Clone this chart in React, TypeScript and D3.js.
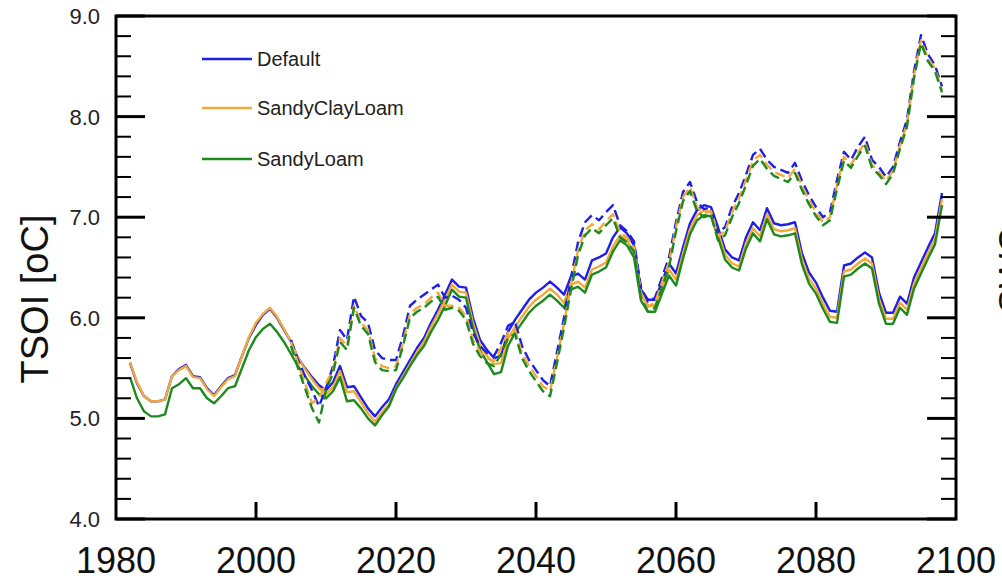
import React from "react";
import * as d3 from "d3";

// ---------- data ----------
const seriesNames = ["Default", "SandyClayLoam", "SandyLoam"];
const seriesColors = ["#1f1fe6", "#f2a93b", "#1e8a1e"];

const solidStartYear = 1982;
const dashedStartYear = 2005;

const tsoiDefault = [
  5.55, 5.35, 5.22, 5.17, 5.17, 5.19, 5.42, 5.49, 5.53, 5.42,
  5.41, 5.30, 5.23, 5.32, 5.40, 5.43, 5.62, 5.80, 5.93, 6.03,
  6.09, 6.00, 5.88, 5.76, 5.60, 5.50, 5.41, 5.33, 5.28, 5.36,
  5.52, 5.31, 5.32, 5.21, 5.10, 5.02, 5.11, 5.19, 5.34, 5.46,
  5.58, 5.70, 5.80, 5.95, 6.08, 6.23, 6.38, 6.31, 6.30, 6.00,
  5.78, 5.68, 5.60, 5.62, 5.86, 5.98, 6.08, 6.18, 6.25, 6.30,
  6.36, 6.30, 6.23, 6.41, 6.44, 6.38, 6.57, 6.60, 6.64, 6.80,
  6.90, 6.84, 6.72, 6.28, 6.18, 6.18, 6.36, 6.54, 6.44, 6.70,
  6.94, 7.07, 7.12, 7.10, 6.90, 6.68, 6.60, 6.57, 6.80, 6.95,
  6.87, 7.09, 6.94, 6.92, 6.93, 6.95, 6.64, 6.45, 6.35, 6.20,
  6.07, 6.06, 6.52, 6.54, 6.60, 6.65, 6.60, 6.25, 6.05, 6.05,
  6.21, 6.14, 6.40, 6.55, 6.70, 6.84, 7.24,
];

const tsoiSandyClayLoam = [
  5.56, 5.36, 5.22, 5.17, 5.17, 5.19, 5.42, 5.48, 5.52, 5.41,
  5.40, 5.29, 5.22, 5.31, 5.39, 5.42, 5.62, 5.81, 5.95, 6.04,
  6.10, 6.01, 5.89, 5.76, 5.60, 5.49, 5.39, 5.30, 5.24, 5.31,
  5.47, 5.26, 5.27, 5.16, 5.05, 4.97, 5.06, 5.14, 5.30, 5.42,
  5.54, 5.66, 5.76, 5.91, 6.04, 6.18, 6.33, 6.26, 6.25, 5.95,
  5.73, 5.62, 5.54, 5.55, 5.79, 5.91, 6.01, 6.11, 6.18, 6.23,
  6.29, 6.23, 6.15, 6.33, 6.36, 6.30, 6.48, 6.51, 6.55, 6.71,
  6.82, 6.77, 6.65, 6.22, 6.12, 6.12, 6.30, 6.48, 6.38, 6.64,
  6.88, 7.02, 7.07, 7.05, 6.85, 6.63, 6.54, 6.51, 6.74, 6.89,
  6.81, 7.03, 6.88, 6.86, 6.87, 6.89, 6.58, 6.39, 6.29, 6.14,
  6.01, 6.00, 6.46, 6.48, 6.54, 6.59, 6.54, 6.19, 5.99, 5.99,
  6.15, 6.08, 6.34, 6.49, 6.64, 6.78, 7.18,
];

const tsoiSandyLoam = [
  5.41, 5.20, 5.07, 5.02, 5.02, 5.04, 5.30, 5.34, 5.40, 5.30,
  5.30, 5.20, 5.15, 5.22, 5.30, 5.32, 5.50, 5.68, 5.81, 5.89,
  5.94, 5.86, 5.76, 5.64, 5.52, 5.42, 5.32, 5.24, 5.20, 5.27,
  5.41, 5.17, 5.18, 5.10, 5.00, 4.93, 5.03, 5.12, 5.29, 5.40,
  5.52, 5.63, 5.72, 5.86, 5.98, 6.12, 6.28, 6.21, 6.20, 5.90,
  5.68, 5.56, 5.44, 5.46, 5.72, 5.85, 5.95, 6.05, 6.12, 6.17,
  6.23, 6.17, 6.10, 6.28, 6.31, 6.25, 6.43, 6.46, 6.50, 6.66,
  6.77, 6.72, 6.60, 6.17, 6.06, 6.06, 6.24, 6.42, 6.32, 6.59,
  6.83, 6.97, 7.02, 7.01, 6.80, 6.58, 6.50, 6.47, 6.69, 6.84,
  6.76, 6.98, 6.83, 6.81, 6.82, 6.84, 6.53, 6.34, 6.24, 6.09,
  5.96, 5.95, 6.41, 6.43, 6.49, 6.54, 6.49, 6.14, 5.94, 5.94,
  6.10, 6.03, 6.29, 6.44, 6.59, 6.73, 7.12,
];

// dashed series (right axis, drawn in left-axis units)
const swcDefault = [
  5.78, 5.58, 5.42, 5.28, 5.12, 5.30, 5.52, 5.88, 5.78, 6.21,
  6.02, 5.95, 5.68, 5.60, 5.58, 5.58, 5.82, 6.12, 6.18, 6.23,
  6.28, 6.33, 6.20, 6.22, 6.18, 6.10, 5.85, 5.72, 5.65, 5.62,
  5.75, 5.92, 5.96, 5.72, 5.58, 5.48, 5.38, 5.32, 5.66, 6.00,
  6.40, 6.75, 6.95, 7.02, 6.97, 7.05, 7.12, 6.92, 6.86, 6.76,
  6.30, 6.16, 6.20, 6.40, 6.60, 6.95, 7.25, 7.35, 7.15, 7.08,
  7.10, 6.85, 6.90, 7.10, 7.24, 7.42, 7.62, 7.68, 7.57, 7.50,
  7.47, 7.44, 7.54, 7.36, 7.22, 7.10, 7.00, 7.05, 7.37, 7.65,
  7.57, 7.70, 7.80, 7.57, 7.50, 7.40, 7.50, 7.75, 7.97, 8.45,
  8.81, 8.62, 8.51, 8.30,
];

const swcSandyClayLoam = [
  5.76, 5.55, 5.35, 5.15, 5.20, 5.35, 5.48, 5.80, 5.72, 6.12,
  5.95, 5.88, 5.60, 5.52, 5.50, 5.52, 5.75, 6.04, 6.10, 6.13,
  6.20, 6.25, 6.12, 6.12, 6.10, 6.02, 5.78, 5.66, 5.60, 5.57,
  5.70, 5.85, 5.88, 5.65, 5.52, 5.42, 5.32, 5.27, 5.60, 5.94,
  6.33, 6.67, 6.87, 6.93, 6.88, 6.96, 7.03, 6.85, 6.80, 6.70,
  6.25, 6.11, 6.15, 6.35, 6.55, 6.90, 7.20, 7.30, 7.10, 7.04,
  7.06, 6.81, 6.86, 7.05, 7.19, 7.37, 7.56, 7.62, 7.52, 7.45,
  7.42, 7.39, 7.48, 7.31, 7.17, 7.05, 6.95, 7.00, 7.32, 7.60,
  7.52, 7.64, 7.74, 7.52, 7.45, 7.36, 7.46, 7.71, 7.93, 8.41,
  8.76, 8.58, 8.48, 8.26,
];

const swcSandyLoam = [
  5.72, 5.50, 5.30, 5.10, 4.96, 5.28, 5.45, 5.76, 5.68, 6.10,
  5.92, 5.84, 5.56, 5.48, 5.47, 5.48, 5.72, 6.00, 6.06, 6.10,
  6.16, 6.21, 6.08, 6.10, 6.07, 5.98, 5.74, 5.62, 5.55, 5.52,
  5.64, 5.80, 5.84, 5.60, 5.47, 5.37, 5.27, 5.22, 5.55, 5.90,
  6.28, 6.62, 6.82, 6.89, 6.84, 6.92, 6.99, 6.80, 6.75, 6.66,
  6.20, 6.06, 6.10, 6.30, 6.50, 6.86, 7.16, 7.26, 7.06, 7.00,
  7.02, 6.77, 6.82, 7.00, 7.14, 7.32, 7.51, 7.58, 7.48, 7.41,
  7.38, 7.35, 7.44, 7.27, 7.13, 7.01, 6.92, 6.97, 7.28, 7.56,
  7.49, 7.61, 7.71, 7.49, 7.42, 7.33, 7.43, 7.68, 7.90, 8.38,
  8.73, 8.55, 8.45, 8.24,
];

const xTickValues = [1980, 2000, 2020, 2040, 2060, 2080, 2100];
const yTickValues = [4, 5, 6, 7, 8, 9];
const yTitle = "TSOI [oC]";
const rightTitle = "SWC";

// ---------- layout ----------
const W = 1002;
const H = 581;
const left = 116;
const right = 956;
const top = 16;
const bottom = 519;
const FONT = "'Liberation Sans', Arial, Helvetica, sans-serif";

export default function App() {
  const x = d3.scaleLinear().domain([1980, 2100]).range([left, right]);
  const y = d3.scaleLinear().domain([4, 9]).range([bottom, top]);

  const line = d3
    .line<[number, number]>()
    .x((d) => x(d[0]))
    .y((d) => y(d[1]));

  const toPts = (vals: number[], start: number): [number, number][] =>
    vals.map((v, i) => [start + i, v]);

  const solid = [tsoiDefault, tsoiSandyClayLoam, tsoiSandyLoam];
  const dashed = [swcDefault, swcSandyClayLoam, swcSandyLoam];

  const minorY = d3
    .range(40, 91, 2)
    .map((v) => v / 10)
    .filter((v) => Math.abs(v - Math.round(v)) > 1e-6);

  return (
    <svg
      width={W}
      height={H}
      style={{ position: "absolute", left: 0, top: 0, background: "#fff" }}
      fontFamily={FONT}
    >
      <rect x={0} y={0} width={W} height={H} fill="#fff" />
      {/* series */}
      <g fill="none" strokeLinejoin="round">
        {solid.map((s, i) => (
          <path key={"s" + i} d={line(toPts(s, solidStartYear)) || ""} stroke={seriesColors[i]} strokeWidth={2.4} />
        ))}
        {dashed.map((s, i) => (
          <path
            key={"d" + i}
            d={line(toPts(s, dashedStartYear)) || ""}
            stroke={seriesColors[i]}
            strokeWidth={2.4}
            strokeDasharray="10,5"
          />
        ))}
      </g>

      {/* frame */}
      <rect x={left} y={top} width={right - left} height={bottom - top} fill="none" stroke="#000" strokeWidth={3} />

      {/* y ticks (left & right) */}
      {yTickValues.map((v) => (
        <g key={"yt" + v}>
          <line x1={left} x2={left + 29} y1={y(v)} y2={y(v)} stroke="#000" strokeWidth={3} />
          <line x1={right} x2={right - 29} y1={y(v)} y2={y(v)} stroke="#000" strokeWidth={3} />
          <text x={100} y={y(v)} dy="0.36em" textAnchor="end" fontSize={22} fill="#222">
            {v.toFixed(1)}
          </text>
        </g>
      ))}
      {minorY.map((v) => (
        <g key={"ym" + v}>
          <line x1={left} x2={left + 15} y1={y(v)} y2={y(v)} stroke="#000" strokeWidth={2} />
          <line x1={right} x2={right - 15} y1={y(v)} y2={y(v)} stroke="#000" strokeWidth={2} />
        </g>
      ))}

      {/* x ticks */}
      {xTickValues.map((v) => (
        <g key={"xt" + v}>
          {v > 1980 && v < 2100 && (
            <line x1={x(v)} x2={x(v)} y1={bottom} y2={bottom - 17} stroke="#000" strokeWidth={3} />
          )}
          <text x={x(v)} y={573} textAnchor="middle" fontSize={36} fill="#111">
            {v}
          </text>
        </g>
      ))}

      {/* axis titles */}
      <text transform={`translate(48,299) rotate(-90)`} textAnchor="middle" fontSize={38} fill="#111">
        {yTitle}
      </text>
      <text transform={`translate(1025,270) rotate(-90)`} textAnchor="middle" fontSize={37} fill="#111">
        {rightTitle}
      </text>

      {/* legend */}
      {seriesNames.map((name, i) => {
        const ly = [59, 108, 159][i];
        return (
          <g key={"lg" + i}>
            <line x1={202} x2={252} y1={ly} y2={ly} stroke={seriesColors[i]} strokeWidth={2.4} />
            <text x={257} y={ly} dy="0.36em" fontSize={20} fill="#222">
              {name}
            </text>
          </g>
        );
      })}
    </svg>
  );
}
